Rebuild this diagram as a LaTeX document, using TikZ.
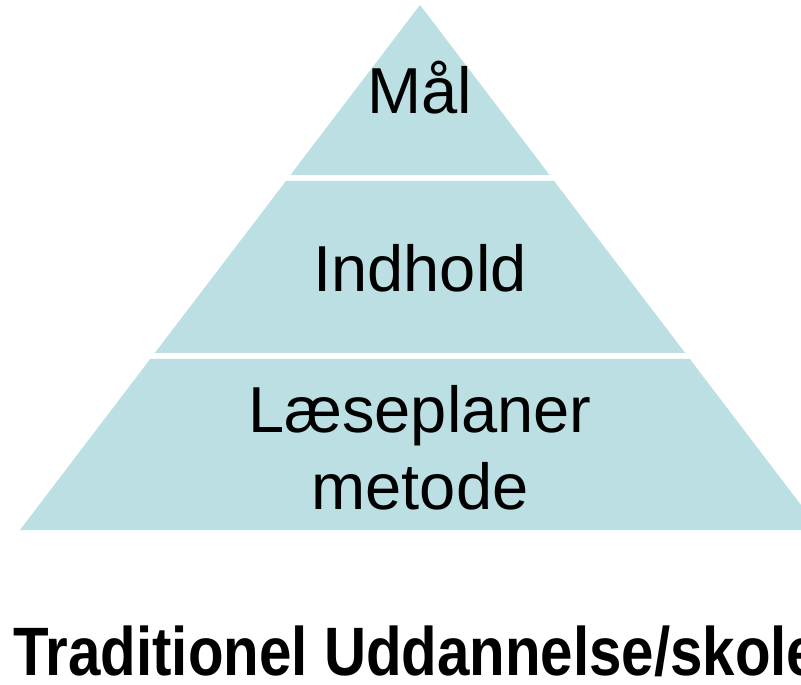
\documentclass[tikz,border=0pt]{standalone}
\usepackage{fontspec}
\setmainfont{Liberation Sans}
\newfontfamily\bottomfont[FakeStretch=0.85]{Liberation Sans}
\definecolor{layerblue}{HTML}{BBDFE2}
\tikzset{
    layer/.style={fill=layerblue, draw=none},
    label/.style={font=\fontsize{37}{44}\selectfont, align=center, inner sep=0pt}
}
\begin{document}
\begin{tikzpicture}[x=0.02cm, y=-0.02cm]
    \useasboundingbox (0,0) rectangle (801,685);
    \clip (0,0) rectangle (801,685);
    % pyramid layers
    \fill[layer] (420,5) -- (549.6,175) -- (290.4,175) -- cycle;
    \fill[layer] (286,181) -- (554,181) -- (685.2,353) -- (154.8,353) -- cycle;
    \fill[layer] (150.2,359) -- (689.8,359) -- (820,530) -- (20,530) -- cycle;
    % texts
    \node[label] (maal) at (420,88) {Mål};
    \node[label] (indhold) at (420,268) {Indhold};
    \node[label] (plan) at (420,448) {Læseplaner\\metode};
    \node[anchor=west, inner sep=0pt, font=\bottomfont\bfseries\fontsize{39}{44}\selectfont]
        (titel) at (13,651) {Traditionel Uddannelse/skole};
\end{tikzpicture}
\end{document}
